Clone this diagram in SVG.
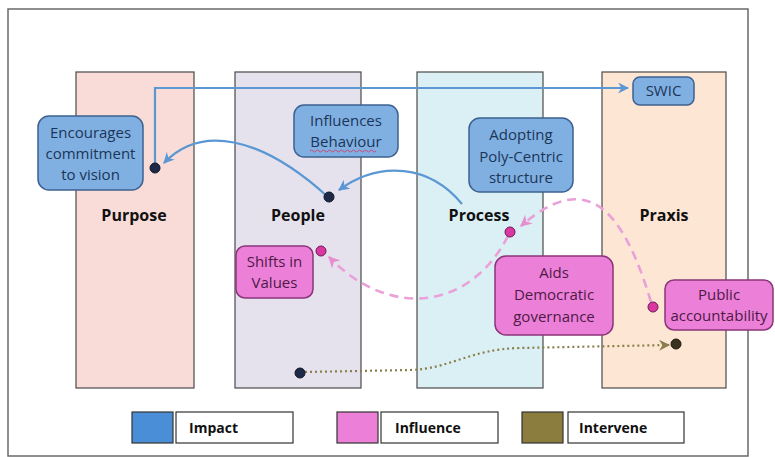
<svg xmlns="http://www.w3.org/2000/svg" width="775" height="457" viewBox="0 0 775 457">
<style>
  .col{stroke:#4a4a4a;stroke-width:1.2}
  .colt{font-family:"Open Sans","Liberation Sans",sans-serif;font-weight:bold;font-size:16px;fill:#111;text-anchor:middle}
  .bb{fill:#80b0e2;stroke:#3d6190;stroke-width:1.5}
  .bt{font-family:"Open Sans","Liberation Sans",sans-serif;font-size:15px;fill:#1c3557;text-anchor:middle}
  .pb{fill:#ec80d8;stroke:#8a3479;stroke-width:1.5}
  .pt{font-family:"Open Sans","Liberation Sans",sans-serif;font-size:15px;fill:#4e1946;text-anchor:middle}
  .lg{fill:#fff;stroke:#333;stroke-width:1.2}
  .lt{font-family:"Open Sans","Liberation Sans",sans-serif;font-weight:bold;font-size:14px;fill:#111}
  .blue{fill:none;stroke:#5b97d2;stroke-width:2.2}
  .pink{fill:none;stroke:#eaa0d8;stroke-width:2.6;stroke-dasharray:9 6}
  .olive{fill:none;stroke:#8a7f4c;stroke-width:2.2;stroke-dasharray:2 3}
  .nd{fill:#1d2a47;stroke:#0e1528;stroke-width:1}
  .pd{fill:#d8389f;stroke:#6a1a55;stroke-width:1}
</style>
<defs>
  <marker id="ab" viewBox="0 0 10 10" refX="9" refY="5" markerWidth="5" markerHeight="5" orient="auto" markerUnits="strokeWidth">
    <path d="M0,0 L10,5 L0,10 L3,5 Z" fill="#5b97d2"/>
  </marker>
  <marker id="ap" viewBox="0 0 10 10" refX="9" refY="5" markerWidth="4.5" markerHeight="4.5" orient="auto" markerUnits="strokeWidth">
    <path d="M0,0 L10,5 L0,10 L3,5 Z" fill="#e68fcf"/>
  </marker>
  <marker id="ao" viewBox="0 0 10 10" refX="9" refY="5" markerWidth="5" markerHeight="5" orient="auto" markerUnits="strokeWidth">
    <path d="M0,0 L10,5 L0,10 L3,5 Z" fill="#8a7f4c"/>
  </marker>
</defs>
<rect x="0" y="0" width="775" height="457" fill="#fff"/>
<rect x="8" y="9" width="740" height="447" fill="#fff" stroke="#6a6a6a" stroke-width="1.5"/>

<g id="col-purpose"><rect class="col" x="76" y="72" width="118" height="316" fill="#f9dcd8"/><text class="colt" x="134" y="221">Purpose</text></g>
<g id="col-people"><rect class="col" x="235" y="72" width="126" height="316" fill="#e5e2ee"/><text class="colt" x="298" y="221">People</text></g>
<g id="col-process"><rect class="col" x="417" y="72" width="126" height="316" fill="#dbf0f5"/><text class="colt" x="479" y="221">Process</text></g>
<g id="col-praxis"><rect class="col" x="602" y="72" width="124" height="316" fill="#fde6d4"/><text class="colt" x="664" y="221">Praxis</text></g>

<g id="connectors">
  <path class="blue" d="M155,168 L155,88 L628,88" marker-end="url(#ab)"/>
  <path class="blue" d="M328,197 C260,135 200,125 164,163" marker-end="url(#ab)"/>
  <path class="blue" d="M462,204 C430,165 380,160 339,190" marker-end="url(#ab)"/>
  <path class="pink" d="M651,302 C622,205 585,170 521,226" marker-end="url(#ap)"/>
  <path class="pink" d="M508,236 C470,310 390,320 329,257" marker-end="url(#ap)"/>
  <path class="olive" d="M305,372 L410,370 C450,369 470,349 520,348 L669,345" marker-end="url(#ao)"/>
</g>

<g id="n-encourages"><rect class="bb" x="38" y="116" width="105" height="74" rx="11"/><text class="bt" x="90.5" y="138">Encourages</text><text class="bt" x="90.5" y="159">commitment</text><text class="bt" x="90.5" y="180">to vision</text></g>
<g id="n-influences"><rect class="bb" x="294" y="105" width="104" height="52" rx="10"/><text class="bt" x="346" y="126">Influences</text><text class="bt" x="346" y="147">Behaviour</text><path d="M310,151 q1.5,-2 3,0 t3,0 t3,0 t3,0 t3,0 t3,0 t3,0 t3,0 t3,0 t3,0 t3,0 t3,0 t3,0 t3,0 t3,0 t3,0 t3,0 t3,0 t3,0 t3,0 t3,0 t3,0" fill="none" stroke="#d0406a" stroke-width="0.9"/></g>
<g id="n-adopting"><rect class="bb" x="469" y="118" width="104" height="74" rx="11"/><text class="bt" x="521" y="140">Adopting</text><text class="bt" x="521" y="162">Poly-Centric</text><text class="bt" x="521" y="183">structure</text></g>
<g id="n-swic"><rect class="bb" x="633" y="77" width="61" height="28" rx="7"/><text class="bt" x="663.5" y="96">SWIC</text></g>

<g id="n-shifts"><rect class="pb" x="236" y="246" width="77" height="52" rx="9"/><text class="pt" x="274.5" y="267">Shifts in</text><text class="pt" x="274.5" y="288">Values</text></g>
<g id="n-aids"><rect class="pb" x="495" y="256" width="118" height="79" rx="11"/><text class="pt" x="554" y="278">Aids</text><text class="pt" x="554" y="300">Democratic</text><text class="pt" x="554" y="322">governance</text></g>
<g id="n-public"><rect class="pb" x="665" y="280" width="108" height="50" rx="9"/><text class="pt" x="719" y="300">Public</text><text class="pt" x="719" y="321">accountability</text></g>

<g id="dots">
  <circle class="nd" cx="155" cy="168" r="5"/>
  <circle class="nd" cx="329" cy="197" r="5"/>
  <circle class="pd" cx="321" cy="251" r="5"/>
  <circle class="pd" cx="510" cy="232" r="5"/>
  <circle class="pd" cx="653" cy="307" r="5"/>
  <circle cx="676" cy="344" r="5" fill="#3a321e" stroke="#1e1a10"/>
  <circle class="nd" cx="300" cy="373" r="5"/>
</g>

<g id="legend">
  <rect x="132" y="412" width="41" height="31" fill="#4a8ed8" stroke="#333" stroke-width="1.2"/>
  <rect class="lg" x="176" y="412" width="117" height="31"/><text class="lt" x="189" y="433">Impact</text>
  <rect x="337" y="412" width="41" height="31" fill="#ec80d8" stroke="#333" stroke-width="1.2"/>
  <rect class="lg" x="381" y="412" width="117" height="31"/><text class="lt" x="395" y="433">Influence</text>
  <rect x="522" y="412" width="41" height="31" fill="#8b7d3e" stroke="#333" stroke-width="1.2"/>
  <rect class="lg" x="568" y="412" width="116" height="31"/><text class="lt" x="579" y="433">Intervene</text>
</g>
</svg>
